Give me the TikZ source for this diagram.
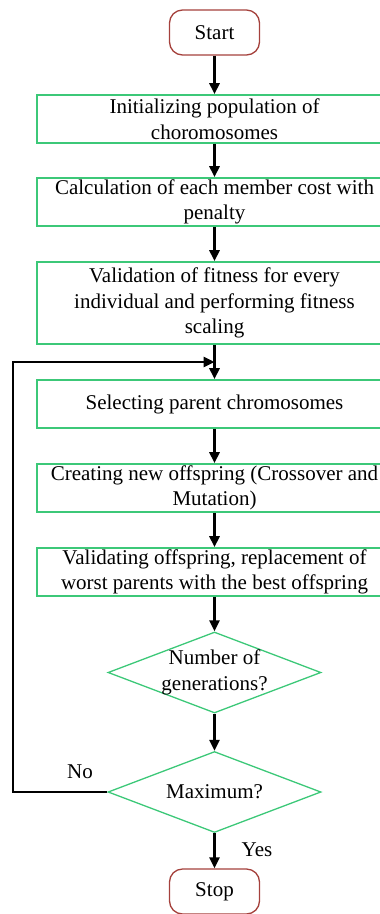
\documentclass[tikz,border=0pt]{standalone}
\usepackage{xcolor}
\usepackage{fontspec}
\setmainfont{Liberation Serif}
\usepackage{tikz}
\usetikzlibrary{shapes.geometric}
\usetikzlibrary{arrows.meta}

\definecolor{boxgreen}{RGB}{60,200,120}
\definecolor{termred}{RGB}{165,65,60}

\begin{document}
\begin{tikzpicture}[x=1pt,y=1pt,
    font=\fontsize{21}{25.5}\selectfont,
    terminal/.style={draw=termred, line width=1.3pt, rounded corners=13pt,
      minimum width=90pt, minimum height=45pt, inner sep=0pt},
    process/.style={draw=boxgreen, line width=1.6pt, minimum width=355pt,
      minimum height=48pt, inner sep=0pt, align=center},
    decision/.style={draw=boxgreen, line width=1.3pt, diamond,
      minimum width=213pt, minimum height=81pt, inner sep=0pt},
    flow/.style={line width=2.6pt, -{Triangle[length=11pt,width=10pt]}}]
  \useasboundingbox (0,0) rectangle (380,-914);
  \node[terminal] (start) at (214.5,-32.5) {Start};
  \node[process] (init) at (214.5,-119)
    {Initializing population of\\choromosomes};
  \node[process] (cost) at (214.5,-202)
    {Calculation of each member cost with\\penalty};
  \node[process, minimum height=82pt] (fitness) at (214.5,-303)
    {Validation of fitness for every\\individual and performing fitness\\scaling};
  \node[process] (select) at (214.5,-404) {Selecting parent chromosomes};
  \node[process] (offspring) at (214.5,-488)
    {Creating new offspring (Crossover and\\Mutation)};
  \node[process] (replace) at (214.5,-572)
    {Validating offspring, replacement of\\worst parents with the best offspring};
  \node[decision,
    label={[align=center]center:Number of\\generations?}] (gen) at (214.5,-672.5) {};
  \node[decision, label=center:Maximum?] (max) at (214.5,-792) {};
  \node[terminal] (stop) at (214.5,-891.5) {Stop};
  \node (no) at (80,-772) {No};
  \node (yes) at (257,-850) {Yes};

  \coordinate (join) at (214.5,-362);
  \coordinate (corner) at (13,-362);

  \draw[flow] (start) -- (init);
  \draw[flow] (init) -- (cost);
  \draw[flow] (cost) -- (fitness);
  \draw[flow] (fitness) -- (select);
  \draw[flow] (select) -- (offspring);
  \draw[flow] (offspring) -- (replace);
  \draw[flow] (replace) -- (gen);
  \draw[flow] (gen) -- (max);
  \draw[flow] (max) -- (stop);
  \draw[flow] (max.west) -| (corner) -- (join);
\end{tikzpicture}
\end{document}
